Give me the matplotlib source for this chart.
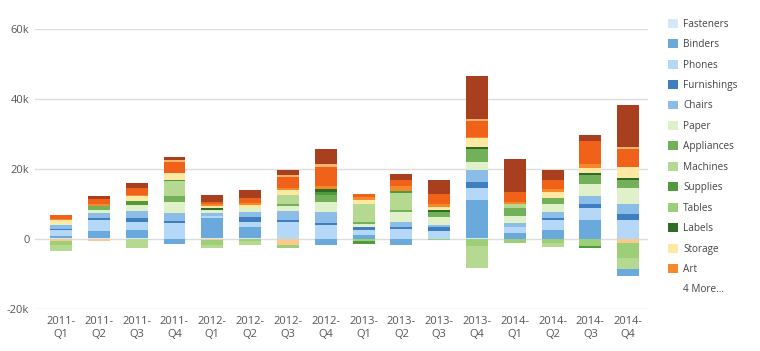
import numpy as np
import matplotlib
matplotlib.use("Agg")
import matplotlib.pyplot as plt
from matplotlib.patches import Patch
from matplotlib.ticker import FuncFormatter

plt.rcParams['font.family'] = ['Open Sans', 'DejaVu Sans']

# quarters on the x axis
quarters = ['2011-\nQ1', '2011-\nQ2', '2011-\nQ3', '2011-\nQ4',
            '2012-\nQ1', '2012-\nQ2', '2012-\nQ3', '2012-\nQ4',
            '2013-\nQ1', '2013-\nQ2', '2013-\nQ3', '2013-\nQ4',
            '2014-\nQ1', '2014-\nQ2', '2014-\nQ3', '2014-\nQ4']

# profit per sub-category, in thousands
fasteners   = [0.3, 0.3, 0.3, 0, 0.3, 0.3, 0, 0, 0, 0, 0, 0.2, 0, 0, 0, 0]
binders     = [0.7, 1.9, 2.4, -1.3, 5.7, 3.1, 0, -1.8, 1.1, -1.8, 0, 11.0, 1.6, 2.6, 5.4, -1.9]
phones      = [1.7, 3.3, 2.2, 4.6, 0.7, 1.6, 4.8, 4.0, 1.4, 2.8, 2.4, 3.3, 1.7, 2.7, 3.4, 5.4]
furnishings = [0.3, 0.5, 1.1, 0.5, 0, 1.4, 0.7, 0.7, 0.8, 0.6, 1.0, 1.9, 0, 0.7, 1.1, 1.7]
chairs      = [0.9, 1.4, 1.9, 2.4, 0.8, 1.4, 2.4, 2.9, 0, 1.6, 0.7, 3.3, 1.4, 1.7, 2.4, 2.9]
paper       = [0.5, 1.0, 1.9, 3.1, 0.8, 1.2, 1.6, 2.9, 1.1, 2.7, 2.2, 2.4, 1.9, 2.4, 3.3, 4.6]
appliances  = [0, 1.1, 0, 1.6, 0, 0, 0.6, 2.2, 0.5, 0.7, 1.3, 3.6, 2.2, 1.6, 2.7, 2.3]
machines    = [-1.6, 0, -2.7, 4.3, -1.1, -1.0, 2.6, 0, 5.2, 4.8, 0, -6.4, 1.1, -1.2, 0, -3.3]
supplies    = [0, 0, 1.0, 0.5, 0, 0, 0, 0.8, -0.6, 0.5, 0, 0, 0, 0, -0.8, 0]
tables      = [-1.2, 0, 0, 0, -1.2, -0.6, -1.0, 0, -0.7, 0, -0.3, -1.9, -1.0, -1.0, -1.9, -4.3]
labels      = [0, 0, 0, 0, 0.6, 0, 0, 0.9, 0, 0, 0.8, 0.5, 0, 0, 0.7, 0.6]
storage     = [0.9, 0, 1.4, 1.9, 0.6, 0.6, 1.4, 0, 1.0, 0, 0.7, 2.6, 0, 1.7, 1.4, 3.2]
art         = [0.5, 0.6, 0.5, 0, 0.5, 0.6, 0.5, 0.8, 0.8, 1.4, 0.8, 0.5, 0.7, 0.8, 1.0, 0]
accessories = [-0.5, -0.5, 0, 0, -0.4, 0, -1.7, 0, 0, 0, 0, 0, 0, 0, 0, -1.0]
bookcases   = [1.1, 1.3, 1.9, 3.1, 0.7, 1.6, 3.0, 5.5, 1.1, 1.7, 2.9, 4.3, 2.9, 2.6, 6.7, 4.9]
envelopes   = [0, 0, 0, 0.7, 0, 0, 0.8, 0.7, 0, 0, 0, 0.7, 0, 0, 0, 0.7]
copiers     = [0, 0.8, 1.4, 0.7, 1.9, 2.2, 1.3, 4.3, 0, 1.8, 4.1, 12.2, 9.3, 2.9, 1.6, 11.9]

names = ['Fasteners', 'Binders', 'Phones', 'Furnishings', 'Chairs', 'Paper',
         'Appliances', 'Machines', 'Supplies', 'Tables', 'Labels', 'Storage',
         'Art', 'Accessories', 'Bookcases', 'Envelopes', 'Copiers']
series = [fasteners, binders, phones, furnishings, chairs, paper, appliances,
          machines, supplies, tables, labels, storage, art, accessories,
          bookcases, envelopes, copiers]
colors = ['#d4e8f9', '#6aa9dc', '#b5d8f9', '#3f7fbf', '#8cbce8', '#e0f0c8',
          '#72b15a', '#b5d991', '#4f9a3c', '#9ccf78', '#2e6b25', '#fde8a4',
          '#f5892a', '#fdc98a', '#f0621a', '#fdb36b', '#a8401f']

x = np.arange(len(quarters))
vals = np.array(series) * 1000.0

fig = plt.figure(figsize=(7.6, 3.51), dpi=100)
ax = fig.add_axes([0.046, 0.1197, 0.807, 0.7973])

w = 0.58
# positives stack upward in series order
pos_base = np.zeros(len(x))
for v, c in zip(vals, colors):
    p = np.where(v > 0, v, 0)
    ax.bar(x, p, w, bottom=pos_base, color=c, edgecolor='none', zorder=3)
    pos_base += p
# negatives stack downward, last series nearest zero
neg_base = np.zeros(len(x))
for v, c in zip(vals[::-1], colors[::-1]):
    n = np.where(v < 0, v, 0)
    ax.bar(x, n, w, bottom=neg_base, color=c, edgecolor='none', zorder=3)
    neg_base += n

ax.set_ylim(-20000, 60000)
ax.set_xlim(-0.69, 15.53)
ax.set_yticks([-20000, 0, 20000, 40000, 60000])
ax.yaxis.set_major_formatter(FuncFormatter(lambda v, p: '0' if v == 0 else '%dk' % (v / 1000)))
ax.set_xticks(x)
ax.set_xticklabels(quarters)
ax.grid(axis='y', color='#dddddd', linewidth=1, zorder=0)
for s in ax.spines.values():
    s.set_visible(False)
ax.tick_params(axis='both', length=0, labelsize=8, labelcolor='#555555')
ax.tick_params(axis='y', pad=4)
ax.tick_params(axis='x', pad=5)
for t in ax.get_xticklabels():
    t.set_linespacing(1.3)

# legend: first 13 entries plus "4 More..."
handles = [Patch(facecolor=c, edgecolor='none') for c in colors[:13]]
handles.append(Patch(facecolor='none', edgecolor='none'))
leg = fig.legend(handles, names[:13] + ['4 More...'], loc='upper left',
                 bbox_to_anchor=(0.879, 0.947), frameon=False, fontsize=7.2,
                 handlelength=1.0, handleheight=1.0, handletextpad=0.5,
                 labelspacing=0.945, borderaxespad=0, borderpad=0)
for t in leg.get_texts():
    t.set_color('#444444')

plt.savefig('out.png', dpi=100)
